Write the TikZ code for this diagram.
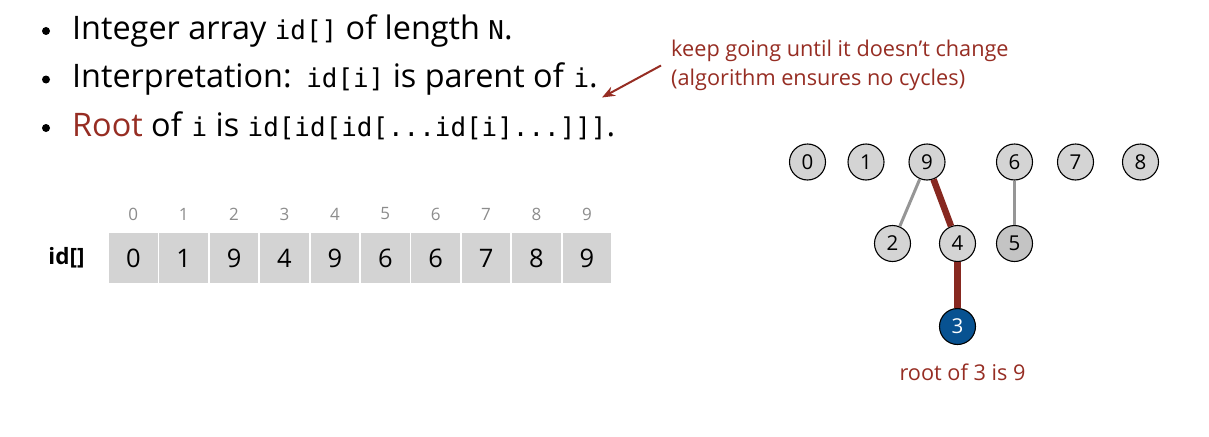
\documentclass[tikz,border=0pt]{standalone}
\usepackage{fontspec}
\setmainfont{Open Sans}
\setmonofont[Scale=0.80]{DejaVu Sans Mono}
\usetikzlibrary{arrows.meta}
\definecolor{darkred}{RGB}{150,45,35}
\definecolor{cellgray}{RGB}{211,211,211}
\definecolor{nodegray}{RGB}{212,212,212}
\definecolor{nodegrayd}{RGB}{196,196,196}
\definecolor{idxgray}{RGB}{140,140,140}
\definecolor{edgegray}{RGB}{150,150,150}
\definecolor{blue3}{RGB}{8,82,145}
\tikzset{
  bullettext/.style={anchor=base west, inner sep=0, font=\fontsize{32.4}{34}\selectfont},
  bulletdot/.style={circle, fill=black, inner sep=0, minimum size=8},
  cell/.style={fill=cellgray, minimum width=48.5, minimum height=50, inner sep=0, font=\fontsize{25.5}{27}\selectfont},
  idx/.style={text=idxgray, inner sep=0, font=\fontsize{17}{19}\selectfont},
  tnode/.style={circle, draw=black, line width=1.1, fill=nodegray, minimum size=36, inner sep=0, font=\fontsize{20.5}{22}\selectfont},
  grayedge/.style={draw=edgegray, line width=3},
  rededge/.style={draw=darkred!90!black, line width=6.5},
  note/.style={text=darkred, anchor=base west, inner sep=0, font=\fontsize{21.7}{23}\selectfont},
}
\begin{document}
\begin{tikzpicture}[x=1pt,y=-1pt]
\useasboundingbox (0,0) rectangle (1209,436);
% bullets
\node[bulletdot] (d1) at (46,31) {};
\node[bulletdot] (d2) at (46,79.5) {};
\node[bulletdot] (d3) at (46,128) {};
\node[bullettext] (t1) at (72,39.5) {Integer array \texttt{id[]} of length \texttt{N}.};
\node[bullettext] (t2) at (72,88) {Interpretation:\hspace{0.45em}\texttt{id[i]} is parent of \texttt{i}.};
\node[bullettext] (t3) at (72,136.5) {\textcolor{darkred}{Root} of \texttt{i} is \texttt{id[id[id[...id[i]...]]]}.};
% annotation
\node[note] (n1) at (671,56.5) {keep going until it doesn’t change};
\node[note] (n2) at (671,85) {(algorithm ensures no cycles)};
\coordinate (as) at (661,65.5);
\coordinate (ae) at (602,97.5);
\draw[darkred, line width=2, -{Stealth[length=13,width=10]}] (as) -- (ae);
% array
\node[anchor=center, inner sep=0, font=\bfseries\fontsize{22.5}{24}\selectfont] (lab) at (66.5,258) {id[]};
\foreach \v [count=\i from 0] in {0,1,9,4,9,6,6,7,8,9} {
  \node[cell] (c\i) at (133.3+50.4*\i,258.3) {\v};
  \node[idx] (i\i) at (133.3+50.4*\i,214) {\i};
}
% tree
\node[tnode] (v0) at (807.5,162) {0};
\node[tnode] (v1) at (866,162) {1};
\node[tnode] (v9) at (927,162) {9};
\node[tnode] (v6) at (1014.5,162) {6};
\node[tnode] (v7) at (1075.5,162) {7};
\node[tnode] (v8) at (1140.5,162) {8};
\node[tnode] (v2) at (892.5,243.5) {2};
\node[tnode] (v4) at (957.5,243.5) {4};
\node[tnode, fill=nodegrayd] (v5) at (1014.5,243.5) {5};
\node[tnode, fill=blue3, text=white] (v3) at (957.5,326.5) {3};
\path[grayedge] (v9) -- (v2);
\path[grayedge] (v6) -- (v5);
\path[rededge] (v9) -- (v4);
\path[rededge] (v4) -- (v3);
\node[text=darkred, inner sep=0, font=\fontsize{21.7}{23}\selectfont] (lbl) at (962.5,372) {root of 3 is 9};
\end{tikzpicture}
\end{document}
